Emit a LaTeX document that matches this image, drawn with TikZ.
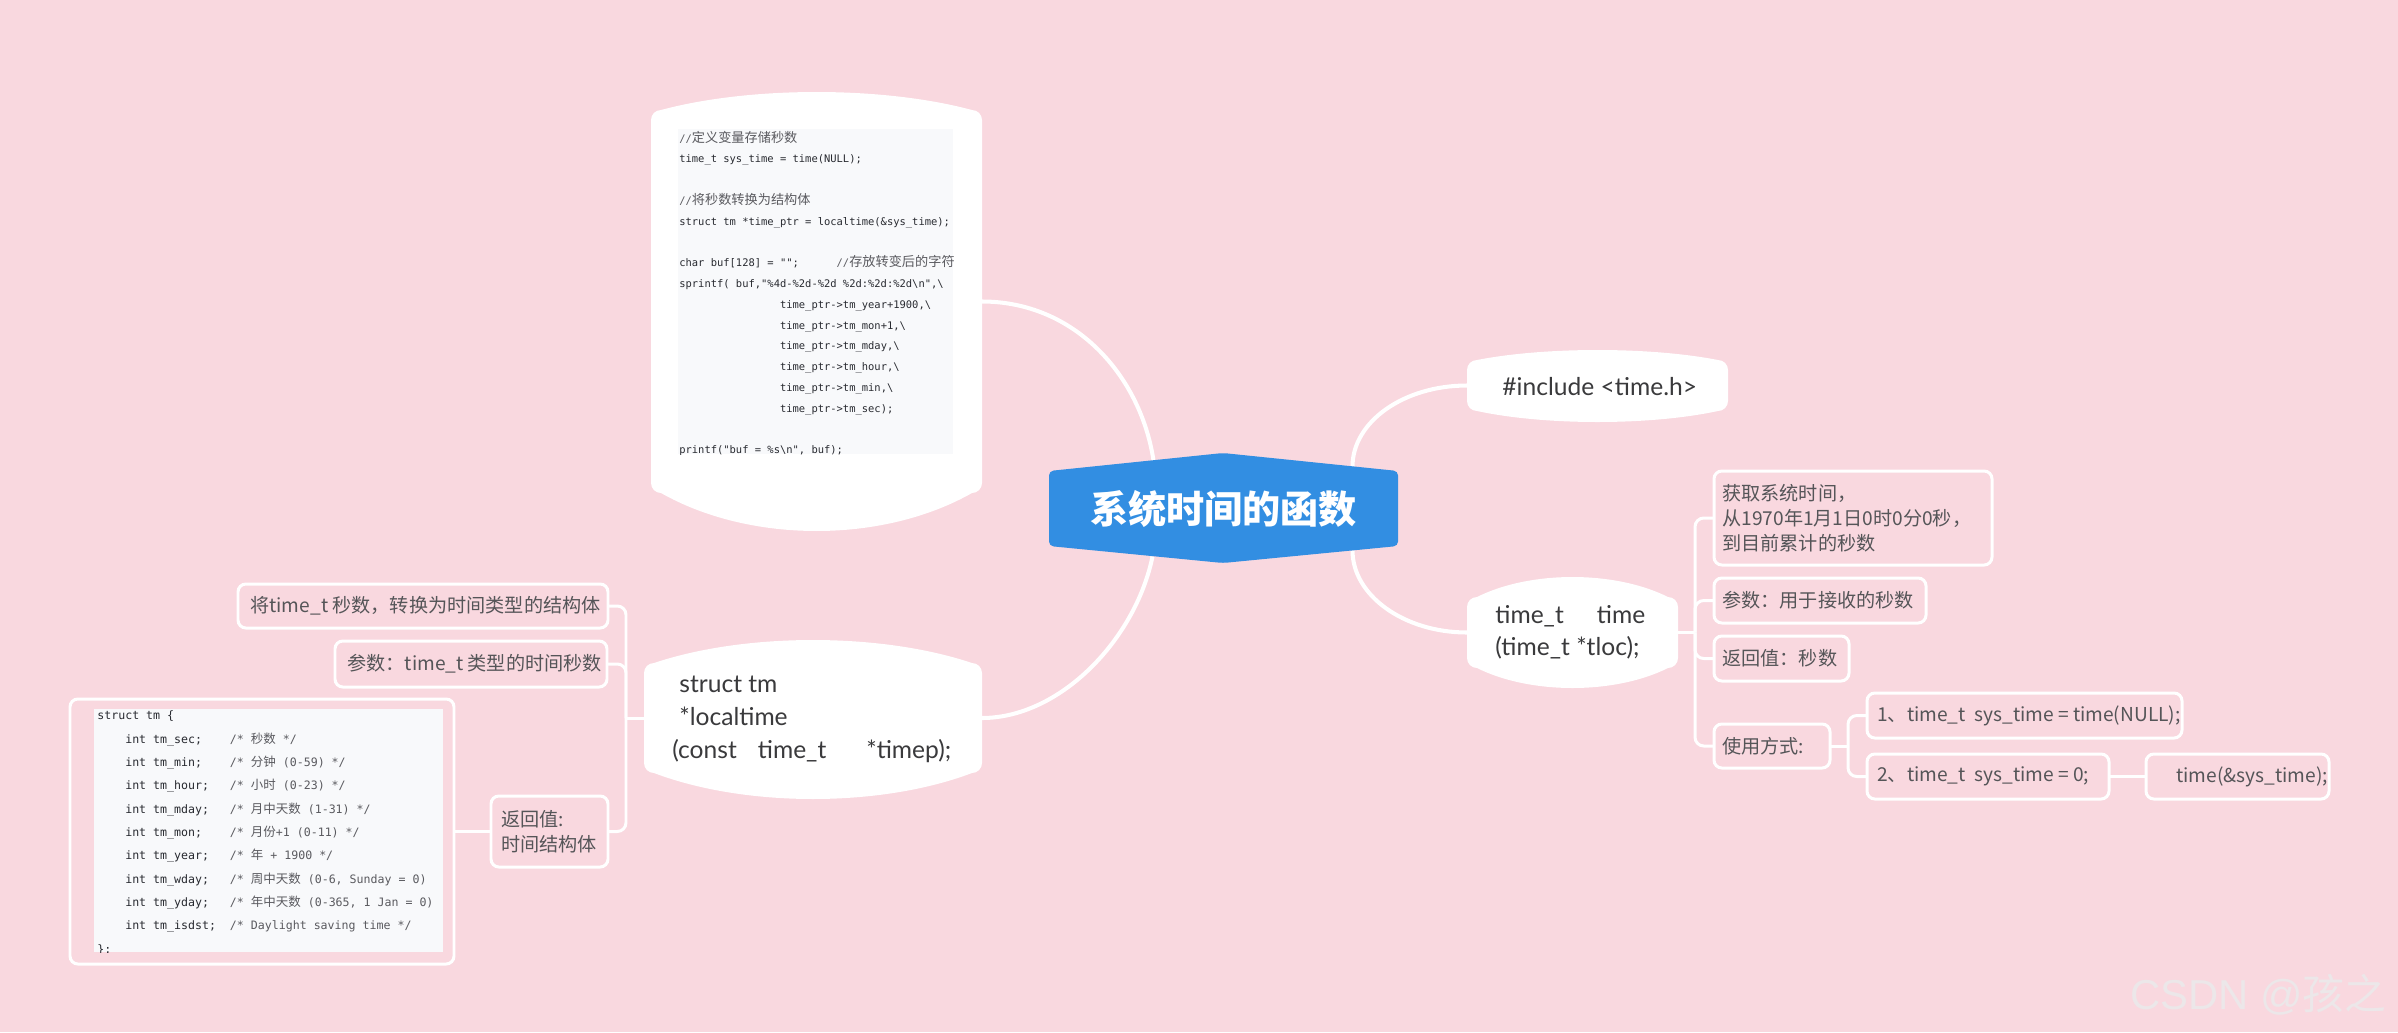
\documentclass[tikz,border=0pt]{standalone}
\usepackage{fontspec}
\newfontfamily\latof{Lato}
\newfontfamily\cjk{Noto Sans CJK SC}
\newfontfamily\monof{DejaVu Sans Mono}
\newfontfamily\arialf{Liberation Sans}
\definecolor{bgpink}{RGB}{249,216,223}
\definecolor{rootblue}{RGB}{50,142,226}
\definecolor{textdark}{RGB}{58,58,60}
\definecolor{boxtext}{RGB}{85,85,88}
\definecolor{codebg}{RGB}{248,249,251}
\definecolor{codetext}{RGB}{40,42,48}
\definecolor{cmt}{RGB}{90,90,95}
\definecolor{wmark}{RGB}{236,231,233}
\pgfdeclarelayer{bg}\pgfdeclarelayer{lines}\pgfdeclarelayer{shapes}
\pgfsetlayers{bg,lines,shapes,main}
\newcommand\rootfont{\cjk\bfseries\fontsize{21.7}{26}\selectfont}
\newcommand\nodefont{\latof\fontsize{14}{18.7}\selectfont}
\newcommand\boxfont{\cjk\fontsize{10.9}{14.2}\selectfont}
\newcommand\codeA{\monof\fontsize{5.95}{11.83}\selectfont}
\newcommand\cjkA[1]{{\cjk\fontsize{7.5}{11.83}\selectfont #1}}
\newcommand\codeB{\monof\fontsize{6.6}{13.3}\selectfont}
\newcommand\cjkB[1]{{\cjk\fontsize{7.1}{13.3}\selectfont #1}}
% name, L, T, R, B, top bulge, bottom bulge, colour
\newcommand\hexnode[8]{%
  \node[inner sep=0, outer sep=0, minimum width={(#4-#2)*0.02cm}, minimum height={(#5-#3)*0.02cm}] (#1) at ({(#2+#4)/2},{(#3+#5)/2}) {};
  \begin{pgfonlayer}{shapes}
  \fill[#8] (#2,#3+10) .. controls (#2,#3+4.5) and (#2+4.5,#3) .. (#2+10,#3)
    .. controls ({#2+0.3*(#4-#2)},{#3-1.333*#6}) and ({#4-0.3*(#4-#2)},{#3-1.333*#6}) .. (#4-10,#3)
    .. controls (#4-4.5,#3) and (#4,#3+4.5) .. (#4,#3+10)
    -- (#4,#5-10)
    .. controls (#4,#5-4.5) and (#4-4.5,#5) .. (#4-10,#5)
    .. controls ({#4-0.3*(#4-#2)},{#5+1.333*#7}) and ({#2+0.3*(#4-#2)},{#5+1.333*#7}) .. (#2+10,#5)
    .. controls (#2+4.5,#5) and (#2,#5-4.5) .. (#2,#5-10) -- cycle;
  \end{pgfonlayer}}
\begin{document}
\begin{tikzpicture}[x=0.02cm, y=-0.02cm,
  sz/.style 2 args={minimum width={#1*0.02cm}, minimum height={#2*0.02cm}},
  rbox/.style={draw=white, line width=1.7pt, fill=bgpink, rounded corners=4.5pt, inner sep=0, outer sep=0},
  btxt/.style={inner sep=0, anchor=west, align=left, font=\boxfont, text=boxtext},
  ntxt/.style={inner sep=0, anchor=west, align=left, font=\nodefont, text=textdark},
  conn/.style={draw=white, line width=2.3pt},
  conn2/.style={draw=white, line width=1.7pt, rounded corners=5pt}]
\begin{pgfonlayer}{bg}
\fill[bgpink] (0,0) rectangle (2398,1032);
\end{pgfonlayer}
\useasboundingbox (0,0) rectangle (2398,1032);

% ---------- white hexagon nodes ----------
\hexnode{code}{651}{110}{982}{493}{18}{38}{white}
\hexnode{inc}{1467}{360}{1728}{411}{10}{11}{white}
\hexnode{tfun}{1467}{597}{1678}{668}{20}{20}{white}
\hexnode{lt}{644}{663}{982}{773}{23}{26}{white}

% ---------- root ----------
\node[inner sep=0, outer sep=0, sz={349}{75}, font=\rootfont, text=white] (root) at (1223.5,508.5) {系统时间的函数};
\begin{pgfonlayer}{shapes}
\fill[rootblue, rounded corners=2.5pt] (1049,471) -- (1223,453) -- (1398,471) -- (1398,546) -- (1223,563) -- (1049,546) -- cycle;
\end{pgfonlayer}

% ---------- texts of hexagon nodes ----------
\node[ntxt] (inctxt) at (1502,387) {\#include <time.h>};
\node[ntxt, font=\latof\fontsize{14}{18.1}\selectfont] (tfuntxt) at (1495,632) {time\_t\hspace{0.66cm}time\\(time\_t *tloc);};
\node[ntxt] (lttxt) at (679,719) {struct tm\\*localtime\\\hspace*{-0.14cm}(const\hspace{0.42cm}time\_t\hspace{0.8cm}*timep);};

% ---------- top code block ----------
\fill[codebg] (678,129) rectangle (953,454);
\begin{scope}
\clip (678,129) rectangle (953,454);
\node[inner sep=0, anchor=west, align=left, font=\codeA, text=codetext] (codetxt) at (679,293.5) {%
\textcolor{cmt}{//\cjkA{定义变量存储秒数}}\\
time\_t~sys\_time~=~time(NULL);\\
\mbox{}\\
\textcolor{cmt}{//\cjkA{将秒数转换为结构体}}\\
struct~tm~*time\_ptr~=~localtime(\&sys\_time);\\
\mbox{}\\
char~buf[128]~=~"";~~~~~~\textcolor{cmt}{//\cjkA{存放转变后的字符串}}\\
sprintf(~buf,"\%4d-\%2d-\%2d~\%2d:\%2d:\%2d\textbackslash{}n",\textbackslash{}\\
~~~~~~~~~~~~~~~~time\_ptr->tm\_year+1900,\textbackslash{}\\
~~~~~~~~~~~~~~~~time\_ptr->tm\_mon+1,\textbackslash{}\\
~~~~~~~~~~~~~~~~time\_ptr->tm\_mday,\textbackslash{}\\
~~~~~~~~~~~~~~~~time\_ptr->tm\_hour,\textbackslash{}\\
~~~~~~~~~~~~~~~~time\_ptr->tm\_min,\textbackslash{}\\
~~~~~~~~~~~~~~~~time\_ptr->tm\_sec);\\
\mbox{}\\
printf("buf~=~\%s\textbackslash{}n",~buf);};
\end{scope}

% ---------- left boxes ----------
\node[rbox, sz={370}{44}] (b1) at (423,606) {};
\node[btxt] (b1t) at ([xshift=0.24cm]b1.west) {将time\_t 秒数，转换为时间类型的结构体};
\node[rbox, sz={272}{46}] (b2) at (471,664) {};
\node[btxt] (b2t) at ([xshift=0.24cm]b2.west) {参数：time\_t 类型的时间秒数};
\node[rbox, sz={117}{71}] (b3) at (549.5,831.5) {};
\node[btxt] (b3t) at ([xshift=0.2cm]b3.west) {返回值:\\时间结构体};

% ---------- left code block ----------
\node[rbox, sz={384}{265}] (code2) at (262,831.5) {};
\fill[codebg] (94,709) rectangle (443,952);
\begin{scope}
\clip (94,709) rectangle (443,952);
\node[inner sep=0, anchor=west, align=left, font=\codeB, text=codetext] (code2txt) at (97,833) {%
struct~tm~\{\\
~~~~int~tm\_sec;~~~~\textcolor{cmt}{/*~\cjkB{秒数}~*/}\\
~~~~int~tm\_min;~~~~\textcolor{cmt}{/*~\cjkB{分钟}~(0-59)~*/}\\
~~~~int~tm\_hour;~~~\textcolor{cmt}{/*~\cjkB{小时}~(0-23)~*/}\\
~~~~int~tm\_mday;~~~\textcolor{cmt}{/*~\cjkB{月中天数}~(1-31)~*/}\\
~~~~int~tm\_mon;~~~~\textcolor{cmt}{/*~\cjkB{月份}+1~(0-11)~*/}\\
~~~~int~tm\_year;~~~\textcolor{cmt}{/*~\cjkB{年}~+~1900~*/}\\
~~~~int~tm\_wday;~~~\textcolor{cmt}{/*~\cjkB{周中天数}~(0-6,~Sunday~=~0)}\\
~~~~int~tm\_yday;~~~\textcolor{cmt}{/*~\cjkB{年中天数}~(0-365,~1~Jan~=~0)}\\
~~~~int~tm\_isdst;~~\textcolor{cmt}{/*~Daylight~saving~time~*/}\\
\};};
\end{scope}

% ---------- right boxes ----------
\node[rbox, sz={278}{94}] (r1) at (1853,518) {};
\node[btxt] (r1t) at ([xshift=0.16cm]r1.west) {获取系统时间，\\从1970年1月1日0时0分0秒，\\到目前累计的秒数};
\node[rbox, sz={212}{45}] (r2) at (1820,600.5) {};
\node[btxt] (r2t) at ([xshift=0.16cm]r2.west) {参数：用于接收的秒数};
\node[rbox, sz={135}{45}] (r3) at (1781.5,658.5) {};
\node[btxt] (r3t) at ([xshift=0.16cm]r3.west) {返回值：秒数};
\node[rbox, sz={116}{44}] (r4) at (1772,746) {};
\node[btxt] (r4t) at ([xshift=0.16cm]r4.west) {使用方式:};
\node[rbox, sz={315}{45}] (r5) at (2024.5,715.5) {};
\node[btxt] (r5t) at ([xshift=0.2cm]r5.west) {1、time\_t~~sys\_time = time(NULL);};
\node[rbox, sz={242}{45}] (r6) at (1988,776.5) {};
\node[btxt] (r6t) at ([xshift=0.2cm]r6.west) {2、time\_t~~sys\_time = 0;};
\node[rbox, sz={183}{45}] (r7) at (2237.5,776.5) {};
\node[btxt] (r7t) at ([xshift=0.6cm]r7.west) {time(\&sys\_time);};

% ---------- connectors ----------
\coordinate (sL) at (626,718);
\coordinate (sR) at (1695,632.5);
\coordinate (sR2) at (1848,746);
\begin{pgfonlayer}{lines}
\draw[conn] (code.east) .. controls +(93,0) and +(-13,-85) .. ([shift={(-70,-48)}]root.center);
\draw[conn] ([shift={(-71,48)}]root.center) .. controls +(-17,83) and +(78,0) .. (lt.east);
\draw[conn] ([shift={(129,-42)}]root.center) .. controls +(0,-45) and +(-63,0) .. (inc.west);
\draw[conn] ([shift={(129,42)}]root.center) .. controls +(0,45) and +(-63,0) .. (tfun.west);
\draw[conn2] (lt.west) -- (sL);
\draw[conn2] (sL) |- (b1.east);
\draw[conn2] (sL) |- (b2.east);
\draw[conn2] (sL) |- (b3.east);
\draw[conn2] (code2.east) -- (b3.west);
\draw[conn2] (tfun.east) -- (sR);
\draw[conn2] (sR) |- (r1.west);
\draw[conn2] (sR) |- (r2.west);
\draw[conn2] (sR) |- (r3.west);
\draw[conn2] (sR) |- (r4.west);
\draw[conn2] (r4.east) -- (sR2);
\draw[conn2] (sR2) |- (r5.west);
\draw[conn2] (sR2) |- (r6.west);
\draw[conn2] (r6.east) -- (r7.west);
\end{pgfonlayer}

% ---------- watermark ----------
\node[inner sep=0, anchor=west, text=wmark, font=\arialf\fontsize{23.8}{28}\selectfont] (wm) at (2130,995) {CSDN @{\cjk 孩之}};
\end{tikzpicture}
\end{document}
